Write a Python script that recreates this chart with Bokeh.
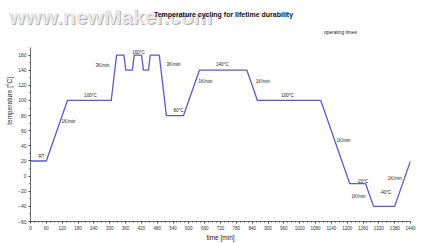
import math
from bokeh.plotting import figure
from bokeh.layouts import column, row
from bokeh.models import Range1d, FixedTicker, ColumnDataSource
from bokeh.core.properties import value
from bokeh.embed import file_html
from bokeh.resources import INLINE

# profile data (time in min, temperature in °C)
time_min = [0, 60, 140, 306, 326, 354, 361, 386, 393, 421, 428, 447, 454, 488,
            515, 580, 640, 820, 860, 1100, 1210, 1270, 1300, 1380, 1440]
temp_c = [20, 20, 100, 100, 160, 160, 140, 140, 160, 160, 140, 140, 160, 160,
          80, 80, 140, 140, 100, 100, -10, -10, -40, -40, 20]

# annotations along the curve
note_text = ["RT", "1K/min", "100°C", "3K/min", "160°C", "3K/min", "80°C", "1K/min",
             "140°C", "1K/min", "100°C", "1K/min", "-20°C", "1K/min", "-40°C", "1K/min"]
note_time = [42, 144, 227, 273, 409, 542, 561, 663, 727, 880, 974, 1186, 1258, 1243, 1345, 1380]
note_temp = [26, 72, 106, 146.5, 163.5, 148, 86.5, 124.5, 147, 124.5, 106, 47, -6.5, -27.3, -22, -2.5]

x_ticks = list(range(0, 1441, 60))
x_minor = list(range(0, 1441, 15))
y_ticks = list(range(-60, 161, 20))
y_minor = list(range(-60, 161, 10))

title_text = "Temperature cycling for lifetime durability"
header_text = "operating times"
watermark_text = "www.newMaker.com"
x_label = "time [min]"
y_label = "temperature [°C]"

FONT = "Liberation Sans"


def strip(w, h):
    f = figure(width=w, height=h, output_backend="svg", toolbar_location=None,
               x_range=Range1d(0, w), y_range=Range1d(h, 0),
               x_axis_type=None, y_axis_type=None,
               min_border_left=0, min_border_right=0, min_border_top=0, min_border_bottom=0)
    f.outline_line_color = None
    f.grid.grid_line_color = None
    return f


# ---- header strip (title, watermark, note) in pixel coordinates ----
top = strip(421, 44)
top.text(x=[111], y=[17], text=[watermark_text], text_font=value(FONT), text_font_size="21px",
         text_font_style="bold", text_color="#b0b0b0", text_align="center", text_baseline="middle")
top.text(x=[110], y=[16], text=[watermark_text], text_font=value(FONT), text_font_size="21px",
         text_font_style="bold", text_color="#e8e8e8", text_align="center", text_baseline="middle")
top.text(x=[223], y=[14], text=[title_text], text_font=value(FONT), text_font_size="7px",
         text_font_style="bold", text_color="#111111", text_align="center", text_baseline="middle")
top.text(x=[340], y=[32], text=[header_text], text_font=value(FONT), text_font_size="4.8px",
         text_color="#222222", text_align="center", text_baseline="middle")

# ---- left strip with the y axis title ----
left = strip(14, 199)
left.text(x=[9], y=[61], text=[y_label], text_font=value(FONT), text_font_size="6.5px",
          text_color="#222222", angle=math.pi / 2, text_align="center", text_baseline="middle")

# ---- main chart ----
p = figure(width=407, height=199, output_backend="svg", toolbar_location=None,
           x_range=Range1d(0, 1440), y_range=Range1d(-60, 170),
           min_border_left=16, min_border_right=11, min_border_top=3, min_border_bottom=20)
p.outline_line_color = None
p.grid.grid_line_color = None

for ax in (p.xaxis[0], p.yaxis[0]):
    ax.axis_line_color = "#444444"
    ax.axis_line_width = 0.8
    ax.major_tick_line_color = "#444444"
    ax.minor_tick_line_color = "#444444"
    ax.major_tick_in = 0
    ax.major_tick_out = 2
    ax.minor_tick_in = 0
    ax.minor_tick_out = 1
    ax.major_label_text_font = FONT
    ax.major_label_text_color = "#333333"
    ax.major_label_standoff = 2
    ax.axis_label_text_font = FONT
    ax.axis_label_text_font_style = "normal"
    ax.axis_label_text_color = "#222222"

p.xaxis.ticker = FixedTicker(ticks=x_ticks, minor_ticks=x_minor)
p.yaxis.ticker = FixedTicker(ticks=y_ticks, minor_ticks=y_minor)
p.xaxis.major_label_text_font_size = "4.5px"
p.yaxis.major_label_text_font_size = "5px"
p.xaxis.axis_label = x_label
p.xaxis.axis_label_text_font_size = "6.5px"
p.xaxis.axis_label_standoff = 1

src = ColumnDataSource(dict(t=time_min, v=temp_c))
p.line("t", "v", source=src, line_color="#5a5acc", line_width=1.3)

nsrc = ColumnDataSource(dict(t=note_time, v=note_temp, s=note_text))
p.text("t", "v", text="s", source=nsrc, text_font=value(FONT), text_font_size="4.5px",
       text_color="#222222", text_align="center", text_baseline="middle")

layout = column(top, row(left, p, spacing=0), spacing=0)
open("out.html", "w").write(file_html(layout, INLINE))
